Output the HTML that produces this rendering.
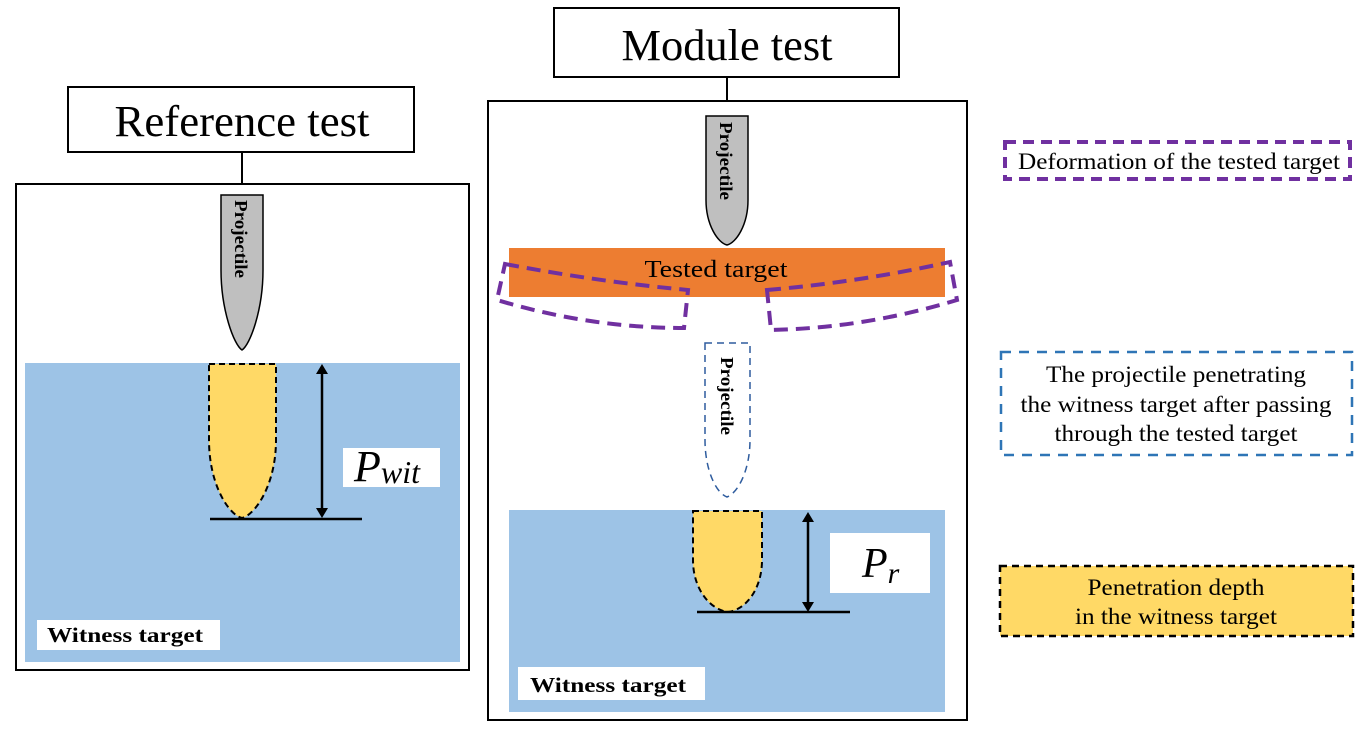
<!DOCTYPE html>
<html><head><meta charset="utf-8"><style>
html,body{margin:0;padding:0;background:#fff;}
svg{display:block;font-family:"Liberation Serif",serif;}
</style></head><body>
<svg width="1366" height="738" viewBox="0 0 1366 738" xmlns="http://www.w3.org/2000/svg">
<!-- Reference test -->
<rect x="68" y="87" width="346" height="65" fill="#fff" stroke="#000" stroke-width="2"/>
<text x="242" y="136" font-size="44" text-anchor="middle" textLength="255" lengthAdjust="spacingAndGlyphs">Reference test</text>
<line x1="242" y1="152" x2="242" y2="184" stroke="#000" stroke-width="2"/>
<rect x="16" y="184" width="453" height="486" fill="#fff" stroke="#000" stroke-width="2"/>
<rect x="25" y="363" width="435" height="299" fill="#9dc3e6"/>
<path d="M221,195 H263 V270 C263,310 250,345 242,350 C234,345 221,310 221,270 Z" fill="#bfbfbf" stroke="#000" stroke-width="1.5"/>
<text transform="translate(235,200) rotate(90)" font-size="18" font-weight="bold" textLength="78" lengthAdjust="spacingAndGlyphs">Projectile</text>
<path d="M209,364 H276 V440 C276,485 255,515 242,518 C229,515 209,485 209,440 Z" fill="#ffd966" stroke="#000" stroke-width="2" stroke-dasharray="6,4"/>
<line x1="210" y1="519" x2="362" y2="519" stroke="#000" stroke-width="2.5"/>
<line x1="322" y1="372" x2="322" y2="510" stroke="#000" stroke-width="2.5"/>
<path d="M316,374 L322,364 L328,374 Z M316,508 L322,518 L328,508 Z" fill="#000"/>
<rect x="343" y="448" width="97" height="39" fill="#fff"/>
<text x="354" y="481" font-size="44" font-style="italic">P<tspan font-size="32" dy="2">wit</tspan></text>
<rect x="37" y="620" width="183" height="30" fill="#fff"/>
<text x="47" y="642" font-size="21" font-weight="bold" textLength="156" lengthAdjust="spacingAndGlyphs">Witness target</text>

<!-- Module test -->
<rect x="554" y="8" width="345" height="69" fill="#fff" stroke="#000" stroke-width="2"/>
<text x="727" y="60" font-size="44" text-anchor="middle" textLength="211" lengthAdjust="spacingAndGlyphs">Module test</text>
<line x1="727" y1="77" x2="727" y2="101" stroke="#000" stroke-width="2"/>
<rect x="488" y="101" width="479" height="619" fill="#fff" stroke="#000" stroke-width="2"/>
<path d="M706,116 H748 V200 C748,225 736,243 727,245 C718,243 706,225 706,200 Z" fill="#bfbfbf" stroke="#000" stroke-width="1.5"/>
<text transform="translate(720,122) rotate(90)" font-size="18" font-weight="bold" textLength="78" lengthAdjust="spacingAndGlyphs">Projectile</text>
<rect x="509" y="248" width="436" height="49" fill="#ed7d31"/>
<text x="716" y="277" font-size="24" text-anchor="middle" textLength="143" lengthAdjust="spacingAndGlyphs">Tested target</text>
<path d="M505,264 Q600,282 688,290 L684,328 Q590,328 497,300 Z" fill="none" stroke="#7030a0" stroke-width="4" stroke-dasharray="14,8"/>
<path d="M767,290 Q860,282 950,262 L957,300 Q865,328 771,330 Z" fill="none" stroke="#7030a0" stroke-width="4" stroke-dasharray="14,8"/>
<path d="M705,343 H750 V440 C750,470 738,493 727,497 C716,493 705,470 705,440 Z" fill="#fff" stroke="#2e5c9e" stroke-width="1.5" stroke-dasharray="7,5"/>
<text transform="translate(721,357) rotate(90)" font-size="18" font-weight="bold" textLength="78" lengthAdjust="spacingAndGlyphs">Projectile</text>
<rect x="509" y="510" width="436" height="202" fill="#9dc3e6"/>
<path d="M693,511 H762 V560 C762,590 745,610 728,612 C711,610 693,590 693,560 Z" fill="#ffd966" stroke="#000" stroke-width="2" stroke-dasharray="6,4"/>
<line x1="697" y1="612" x2="850" y2="612" stroke="#000" stroke-width="2.5"/>
<line x1="808" y1="520" x2="808" y2="604" stroke="#000" stroke-width="2.5"/>
<path d="M802,522 L808,512 L814,522 Z M802,602 L808,612 L814,602 Z" fill="#000"/>
<rect x="830" y="533" width="100" height="60" fill="#fff"/>
<text x="862" y="577" font-size="42" font-style="italic">P<tspan font-size="30" dy="6">r</tspan></text>
<rect x="518" y="667" width="187" height="33" fill="#fff"/>
<text x="530" y="692" font-size="21" font-weight="bold" textLength="156" lengthAdjust="spacingAndGlyphs">Witness target</text>

<!-- Legend -->
<rect x="1005" y="142" width="345" height="37" fill="#fff" stroke="#7030a0" stroke-width="4" stroke-dasharray="11,7"/>
<text x="1018" y="169" font-size="23" textLength="322" lengthAdjust="spacingAndGlyphs">Deformation of the tested target</text>
<rect x="1001" y="352" width="351" height="103" fill="#fff" stroke="#2e75b6" stroke-width="2.5" stroke-dasharray="10,8"/>
<text x="1176" y="382" font-size="23" text-anchor="middle" textLength="260" lengthAdjust="spacingAndGlyphs">The projectile penetrating</text>
<text x="1176" y="412" font-size="23" text-anchor="middle" textLength="311" lengthAdjust="spacingAndGlyphs">the witness target after passing</text>
<text x="1176" y="441" font-size="23" text-anchor="middle" textLength="243" lengthAdjust="spacingAndGlyphs">through the tested target</text>
<rect x="1000" y="566" width="353" height="70" fill="#ffd966" stroke="#000" stroke-width="2.5" stroke-dasharray="7,5"/>
<text x="1176" y="595" font-size="23" text-anchor="middle" textLength="177" lengthAdjust="spacingAndGlyphs">Penetration depth</text>
<text x="1176" y="624" font-size="23" text-anchor="middle" textLength="202" lengthAdjust="spacingAndGlyphs">in the witness target</text>
</svg>
</body></html>
